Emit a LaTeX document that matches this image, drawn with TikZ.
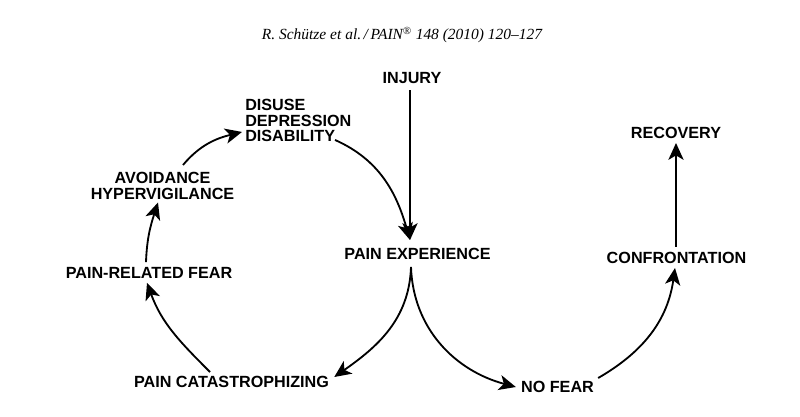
\documentclass[tikz,border=0pt]{standalone}
\usepackage{fontspec}
\setmainfont{Liberation Sans}
\newfontfamily\headfont{Liberation Serif}[Ligatures=TeX]
\usetikzlibrary{arrows.meta,calc}

\begin{document}
\begin{tikzpicture}[x=0.025cm, y=0.025cm,
  lbl/.style={inner sep=0pt, font=\fontsize{11.5}{11}\selectfont\bfseries},
  arr/.style={-{Stealth[length=4.2mm, width=3.8mm, inset=1.1mm]}, line width=1.3pt}
]
  \useasboundingbox (0,0) rectangle (800,416);
  \node[inner sep=0pt, anchor=base, font=\headfont\itshape\fontsize{11}{12}\selectfont] (head) at (402,376)
    {R. Schütze et al.\,/\,PAIN\textsuperscript{\textregistered} 148 (2010) 120–127};

  % fear-avoidance cycle
  \node[lbl] (injury) at (412,337.5) {INJURY};
  \node[lbl, anchor=north west, align=left] (dis) at (245,317) {DISUSE\\DEPRESSION\\DISABILITY};
  \node[lbl, anchor=north, align=center] (avoid) at (162.5,244) {AVOIDANCE\\HYPERVIGILANCE};
  \node[lbl] (fear) at (149,143.5) {PAIN-RELATED FEAR};
  \node[lbl] (pcat) at (231.5,34) {PAIN CATASTROPHIZING};
  \node[lbl] (painexp) at (417.5,162) {PAIN EXPERIENCE};
  % recovery path
  \node[lbl] (nofear) at (557.5,29) {NO FEAR};
  \node[lbl] (confront) at (676.5,158) {CONFRONTATION};
  \node[lbl] (recovery) at (676,283) {RECOVERY};

  \draw[arr] ($(injury.south)+(-2,-6)$) -- ($(painexp.north)+(-7.5,8)$);
  \draw[arr] ($(dis.south west)+(90,2)$) to[out=-24, in=106] ($(painexp.north)+(-7.5,8)$);
  \draw[arr] ($(painexp.south)+(-6.5,-7)$) to[out=-92, in=35] ($(pcat.east)+(5,5)$);
  \draw[arr] ($(painexp.south)+(-6.5,-7)$) to[out=-88, in=165] ($(nofear.west)+(-5,0)$);
  \draw[arr] ($(pcat.north)+(-21.5,4)$) to[out=135, in=-70] ($(fear.south)+(-2,-4.5)$);
  \draw[arr] ($(fear.north)+(-3,4.5)$) to[out=88, in=-108] ($(avoid.south)+(-4.5,-3)$);
  \draw[arr] ($(avoid.north)+(20.5,7)$) to[out=50, in=-166] ($(dis.south west)+(-3,10)$);
  \draw[arr] ($(nofear.north east)+(4,3)$) to[out=30, in=-98] ($(confront.south)+(-1.5,-4)$);
  \draw[arr] ($(confront.north)+(-0.5,5)$) -- ($(recovery.south)+(0,-4)$);
\end{tikzpicture}
\end{document}
